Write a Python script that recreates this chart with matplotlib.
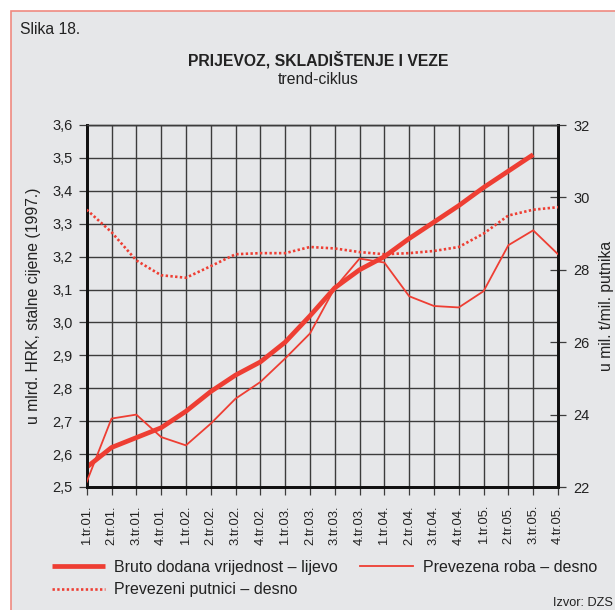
import numpy as np
import matplotlib
matplotlib.use("Agg")
import matplotlib.pyplot as plt
from matplotlib.patches import Rectangle
from matplotlib.lines import Line2D
from matplotlib.ticker import FuncFormatter

plt.rcParams["font.family"] = ["Liberation Sans", "DejaVu Sans"]

# ─────────────────────────────────────────
# Data
# ─────────────────────────────────────────
quarters = ["1.tr.01.", "2.tr.01.", "3.tr.01.", "4.tr.01.",
            "1.tr.02.", "2.tr.02.", "3.tr.02.", "4.tr.02.",
            "1.tr.03.", "2.tr.03.", "3.tr.03.", "4.tr.03.",
            "1.tr.04.", "2.tr.04.", "3.tr.04.", "4.tr.04.",
            "1.tr.05.", "2.tr.05.", "3.tr.05.", "4.tr.05."]

# left axis, ends at 3.tr.05.
bruto_dodana = [2.56, 2.62, 2.65, 2.68, 2.73, 2.79, 2.84, 2.88, 2.94, 3.02,
                3.105, 3.16, 3.20, 3.255, 3.305, 3.355, 3.41, 3.46, 3.51]
# right axis
prevezena_roba = [22.14, 23.89, 24.0, 23.38, 23.15, 23.75, 24.44, 24.9, 25.55, 26.24,
                  27.5, 28.31, 28.2, 27.27, 27.0, 26.96, 27.41, 28.68, 29.09, 28.43]
prevezeni_putnici = [29.66, 29.04, 28.26, 27.85, 27.78, 28.1, 28.43, 28.46, 28.46, 28.63,
                     28.59, 28.49, 28.43, 28.46, 28.52, 28.63, 29.0, 29.5, 29.66, 29.73]

left_ticks = [2.5, 2.6, 2.7, 2.8, 2.9, 3.0, 3.1, 3.2, 3.3, 3.4, 3.5, 3.6]
right_ticks = [22, 24, 26, 28, 30, 32]

RED = "#ee3e33"
BG = "#e6e7e9"
GRID = "#3c3c3c"
TXT = "#222222"
FS = 11.3

fig = plt.figure(figsize=(6.15, 6.10), dpi=100)
fig.patch.set_facecolor("white")
fig.patches.append(Rectangle((11 / 615, -0.05), 1.1, 1 - 11 / 610 + 0.05,
                             transform=fig.transFigure, facecolor=BG,
                             edgecolor="#ef8a80", linewidth=1.2, zorder=-5))

ax = fig.add_axes([86.7 / 615, 123 / 610, 471.3 / 615, 362 / 610])
ax.set_facecolor(BG)
ax2 = ax.twinx()

x = np.arange(len(quarters))

ax.plot(x[:len(bruto_dodana)], bruto_dodana, color=RED, lw=3.4,
        solid_capstyle="butt", zorder=5)
ax2.plot(x, prevezena_roba, color=RED, lw=1.3, zorder=4)
ax2.plot(x, prevezeni_putnici, color=RED, lw=1.9, linestyle=(0, (0.9, 0.9)),
         dash_capstyle="butt", zorder=4)

ax.set_xlim(0, len(quarters) - 1)
ax.set_ylim(2.5, 3.6)
ax2.set_ylim(22, 32)

ax.set_xticks(x)
ax.set_xticklabels(quarters, rotation=90, fontsize=9.4)
ax.set_yticks(left_ticks)
ax.yaxis.set_major_formatter(FuncFormatter(lambda v, p: f"{v:.1f}".replace(".", ",")))
ax2.set_yticks(right_ticks)

ax.grid(True, color=GRID, lw=1.0)
ax.set_axisbelow(True)

ax.tick_params(axis="x", direction="out", length=6, width=0.9, color=GRID, pad=7,
               labelcolor=TXT)
ax.tick_params(axis="y", direction="out", length=6, width=0.9, color=GRID, pad=4,
               labelsize=10.5, labelcolor=TXT)
ax2.tick_params(axis="y", direction="inout", length=12, width=0.9, color=GRID, pad=5,
                labelsize=10.5, labelcolor=TXT)

for sp in ["left", "bottom", "right"]:
    for a in (ax, ax2):
        a.spines[sp].set_linewidth(2.0)
        a.spines[sp].set_color("#111111")
for a in (ax, ax2):
    a.spines["top"].set_linewidth(1.0)
    a.spines["top"].set_color(GRID)

ax.set_ylabel("u mlrd. HRK, stalne cijene (1997.)", fontsize=FS, color=TXT)
ax.yaxis.set_label_coords(-46 / 471.3, 0.5)
ax2.set_ylabel("u mil. t/mil. putnika", fontsize=FS, color=TXT, rotation=90)
ax2.yaxis.set_label_coords(1 + 41 / 471.3, 0.5)

fig.text(20 / 615, 1 - 30 / 610, "Slika 18.", fontsize=FS, va="center", color=TXT)
fig.text(318 / 615, 1 - 60 / 610, "PRIJEVOZ, SKLADIŠTENJE I VEZE", fontsize=FS,
         fontweight="bold", ha="center", va="center", color=TXT)
fig.text(318 / 615, 1 - 80 / 610, "trend-ciklus", fontsize=FS,
         ha="center", va="center", color=TXT)
fig.text(553 / 615, 1 - 603 / 610, "Izvor: DZS", fontsize=9.2, va="center", color=TXT)

handles = [Line2D([], [], color=RED, lw=3.4, solid_capstyle="butt"),
           Line2D([], [], color=RED, lw=1.9, linestyle=(0, (0.9, 0.9))),
           Line2D([], [], color=RED, lw=1.3)]
labels = ["Bruto dodana vrijednost – lijevo", "Prevezeni putnici – desno",
          "Prevezena roba – desno"]
fig.legend(handles, labels, loc="upper left", bbox_to_anchor=(52 / 615, 1 - 560 / 610),
           ncol=2, frameon=False, fontsize=11.5, handlelength=3.3, handletextpad=0.6,
           columnspacing=1.4, borderpad=0, borderaxespad=0, labelspacing=0.45,
           labelcolor=TXT)

fig.savefig("out.png", dpi=100, facecolor=fig.get_facecolor())
